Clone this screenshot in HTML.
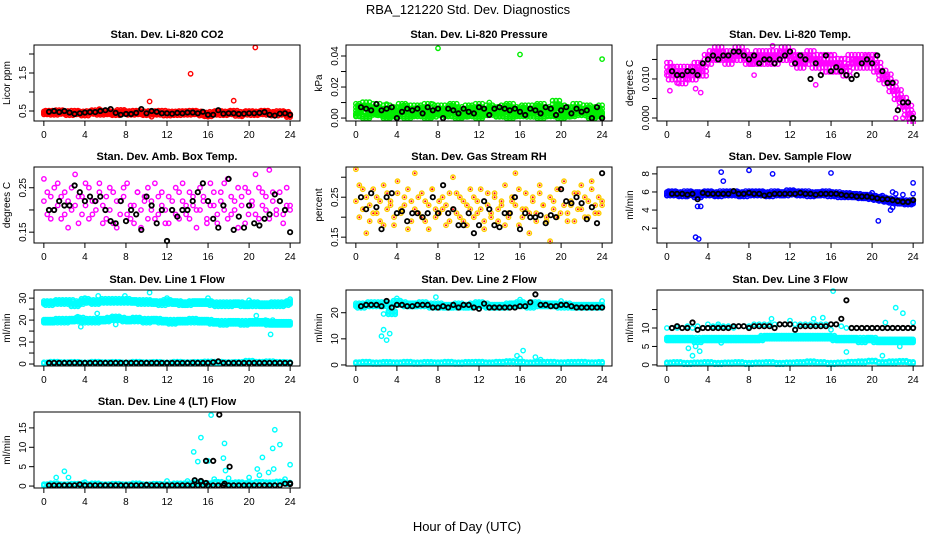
<!DOCTYPE html>
<html><head><meta charset="utf-8"><style>
body{margin:0;background:#fff}
svg{display:block;font-family:"Liberation Sans",sans-serif}
</style></head><body>
<svg id="chart" width="936" height="540" viewBox="0 0 936 540">
<text x="468" y="14" text-anchor="middle" font-size="13">RBA_121220  Std. Dev. Diagnostics</text>
<text x="467" y="531" text-anchor="middle" font-size="13">Hour of Day (UTC)</text>
</svg>
<script>
const xTicks=[0,4,8,12,16,20,24];
const co2Red=[0.45,0.47,0.44,0.48,0.46,0.43,0.47,0.45,0.42,0.46,0.48,0.44,0.47,0.45,0.43,0.49,0.46,0.44,0.47,0.45,0.43,0.46,0.44,0.47,0.42,0.45,0.43,0.46,0.44,0.47,0.45,0.42,0.40,0.44,0.46,0.43,0.45,0.47,0.41,0.44,0.46,0.43,0.45,0.47,0.44,0.42,0.46,0.44,0.38];
const co2RedOut=[[10.3,0.75],[14.3,1.48],[18.5,0.77],[20.6,2.17],[16,0.35],[19.3,0.36],[5.4,0.55],[10.5,0.35]];
const co2Black=[0.48,0.5,0.47,0.5,0.46,0.42,0.44,0.46,0.47,0.47,0.5,0.52,0.55,0.45,0.4,0.42,0.42,0.45,0.55,0.44,0.5,0.48,0.44,0.44,0.43,0.45,0.44,0.46,0.46,0.44,0.48,0.40,0.4,0.52,0.43,0.44,0.44,0.42,0.43,0.44,0.44,0.45,0.47,0.40,0.38,0.43,0.44,0.40];
const presGreen=[0.007,0.006,0.008,0.005,0.007,0.004,0.006,0.003,0.005,0.007,0.006,0.004,0.006,0.005,0.007,0.003,0.006,0.004,0.006,0.007,0.005,0.003,0.006,0.005,0.007,0.004,0.006,0.005,0.003,0.006,0.007,0.004,0.005,0.006,0.003,0.006,0.007,0.005,0.004,0.009,0.006,0.003,0.005,0.007,0.004,0.006,0.005,0.003,0.006];
const presGreen2=[0.002,0.001,0.003,0.001,0.002,0.001,0.002,0.001,0.003,0.002,0.001,0.002,0.001,0.003,0.002,0.001,0.002,0.003,0.001,0.002,0.001,0.002,0.003,0.001,0.002];
const presGreenOut=[[8,0.045],[16,0.041],[24,0.038],[3,0.009],[13,0.01],[7.5,0.009],[19.8,0.009]];
const presBlack=[0.007,0.006,0.005,0.009,0.005,0.006,0.007,0.0,0.004,0.006,0.005,0.006,0.003,0.007,0.005,0.006,0.0,0.006,0.005,0.003,0.006,0.004,0.003,0.007,0.006,0.002,0.006,0.007,0.006,0.005,0.006,0.004,0.002,0.006,0.005,0.003,0.007,0.006,0.002,0.005,0.007,0.003,0.006,0.004,0.005,0.0,0.007,0.0];
const tempMag=[0.013,0.011,0.012,0.010,0.012,0.011,0.013,0.012,0.015,0.016,0.017,0.016,0.015,0.016,0.017,0.016,0.015,0.015,0.016,0.015,0.016,0.015,0.016,0.017,0.016,0.015,0.014,0.015,0.016,0.014,0.015,0.013,0.015,0.013,0.014,0.012,0.015,0.014,0.015,0.014,0.015,0.013,0.011,0.010,0.008,0.006,0.004,0.002,0.000];
const tempMag2=[0.011,0.013,0.009,0.012,0.010,0.013,0.011,0.014,0.016,0.017,0.015,0.017,0.016,0.015,0.016,0.017,0.014,0.016,0.015,0.016,0.014,0.016,0.015,0.016,0.017,0.016,0.016,0.014,0.016,0.015,0.016,0.014,0.016,0.012,0.015,0.013,0.014,0.015,0.014,0.016,0.014,0.012,0.010,0.009,0.007,0.005,0.003,0.001,0.000];
const tempMagOut=[[0.3,0.007],[3.3,0.0065],[10.3,0.0185],[8.5,0.011],[22.3,0.0],[23,0.0],[23.5,0.0],[2.8,0.0075],[14.5,0.0085]];
const tempBlack=[0.012,0.011,0.011,0.012,0.012,0.011,0.014,0.015,0.016,0.015,0.016,0.016,0.017,0.017,0.016,0.015,0.016,0.014,0.015,0.015,0.014,0.015,0.016,0.017,0.014,0.016,0.015,0.010,0.014,0.011,0.016,0.012,0.013,0.012,0.011,0.010,0.011,0.014,0.015,0.014,0.016,0.012,0.009,0.009,0.002,0.004,0.004,0.0];
const ambMag=[0.27,0.19,0.23,0.25,0.21,0.18,0.24,0.22,0.20,0.28,0.17,0.23,0.21,0.25,0.19,0.22,0.26,0.17,0.23,0.20,0.24,0.16,0.22,0.25,0.19,0.21,0.17,0.24,0.20,0.23,0.18,0.22,0.26,0.19,0.21,0.17,0.23,0.20,0.25,0.18,0.22,0.19,0.24,0.21,0.16,0.20,0.23,0.18,0.26,0.21,0.17,0.24,0.20,0.27,0.19,0.22,0.16,0.23,0.25,0.19,0.21,0.28,0.18,0.24,0.20,0.29,0.22,0.19,0.24,0.17,0.21,0.20];
const ambMag2=[0.22,0.24,0.18,0.20,0.26,0.23,0.19,0.16,0.25,0.21,0.23,0.19,0.26,0.18,0.22,0.20,0.24,0.21,0.18,0.25,0.17,0.22,0.19,0.23,0.26,0.18,0.21,0.24,0.16,0.22,0.25,0.20,0.18,0.23,0.24,0.20,0.17,0.22,0.19,0.24,0.26,0.21,0.18,0.23,0.20,0.25,0.22,0.17,0.21,0.24,0.19,0.22,0.26,0.18,0.23,0.20,0.25,0.21,0.17,0.24,0.22,0.19,0.25,0.21,0.23,0.18,0.24,0.20,0.22,0.19,0.25,0.21];
const ambBlack=[0.2,0.2,0.22,0.21,0.21,0.255,0.24,0.22,0.23,0.22,0.23,0.2,0.175,0.17,0.22,0.175,0.2,0.19,0.155,0.23,0.21,0.17,0.2,0.13,0.2,0.185,0.2,0.2,0.22,0.24,0.26,0.22,0.18,0.16,0.21,0.27,0.155,0.185,0.16,0.21,0.17,0.165,0.18,0.19,0.235,0.22,0.2,0.15];
const rhOrange=[0.32,0.28,0.22,0.25,0.19,0.27,0.21,0.24,0.18,0.26,0.23,0.20,0.29,0.22,0.25,0.17,0.24,0.31,0.21,0.26,0.19,0.23,0.27,0.20,0.24,0.22,0.18,0.26,0.30,0.21,0.25,0.19,0.23,0.27,0.20,0.24,0.22,0.17,0.26,0.21,0.25,0.19,0.23,0.28,0.20,0.24,0.31,0.18,0.22,0.26,0.21,0.25,0.19,0.28,0.23,0.20,0.14,0.24,0.27,0.21,0.29,0.19,0.23,0.26,0.22,0.28,0.20,0.24,0.29,0.21,0.25,0.23];
const rhOrange2=[0.24,0.20,0.27,0.16,0.23,0.21,0.25,0.19,0.28,0.22,0.24,0.18,0.26,0.21,0.23,0.27,0.19,0.22,0.25,0.20,0.24,0.17,0.27,0.22,0.21,0.25,0.23,0.19,0.22,0.26,0.20,0.24,0.18,0.22,0.25,0.21,0.27,0.19,0.23,0.20,0.26,0.22,0.24,0.18,0.21,0.25,0.23,0.27,0.20,0.22,0.16,0.24,0.21,0.26,0.23,0.19,0.25,0.22,0.20,0.27,0.23,0.21,0.24,0.19,0.26,0.22,0.25,0.20,0.27,0.23,0.21,0.24];
const rhBlack=[0.25,0.22,0.26,0.225,0.17,0.25,0.26,0.21,0.215,0.19,0.21,0.21,0.2,0.21,0.25,0.21,0.28,0.21,0.22,0.18,0.18,0.21,0.16,0.18,0.24,0.22,0.18,0.175,0.21,0.21,0.25,0.17,0.21,0.2,0.2,0.205,0.185,0.205,0.2,0.27,0.24,0.235,0.25,0.235,0.195,0.225,0.185,0.31];
const flowBlue=[5.8,5.9,5.8,5.7,5.9,5.8,5.6,5.8,5.9,5.8,5.7,5.9,5.8,5.9,5.8,5.7,5.9,5.8,5.9,5.8,5.7,5.9,5.8,5.8,6.0,5.9,5.8,5.9,5.7,5.8,5.8,5.9,5.7,5.8,5.6,5.7,5.6,5.6,5.5,5.5,5.4,5.3,5.2,5.1,5.0,4.9,4.9,4.8,4.9];
const flowBlue2=[5.6,6.0,5.5,6.0,5.7,5.6,6.0,5.5,5.7,6.0,5.6,5.8,6.0,5.6,5.9,5.8,6.0,5.6,5.8,5.6,5.9,5.6,6.0,5.7,5.8];
const flowBlueOut=[[2.8,1.0],[3.1,0.8],[3.0,4.4],[3.3,4.4],[5.3,8.2],[5.5,7.2],[8,8.4],[10.3,8.0],[16,8.1],[20.6,2.8],[21.8,4.0],[22,4.3],[24,7.0],[20,5.9],[22.3,5.8]];
const flowBlack=[5.8,5.8,5.8,5.7,5.8,5.2,5.9,5.8,5.8,5.8,5.8,5.8,6.1,5.8,5.8,5.9,5.8,5.8,5.6,5.7,5.8,5.8,5.8,5.8,5.8,5.9,5.8,5.8,5.7,5.8,5.8,5.8,5.8,5.7,5.6,5.6,5.5,5.5,5.5,5.4,5.3,5.2,5.2,5.1,5.0,4.9,4.9,5.1];
const l1Upper=[28,27.5,28,28.5,28,28.5,27,28,29,28.5,28,28.5,29,28.5,29,28.5,29,28.5,28.5,28,28.5,28,28,27.5,28.5,28,28,27.5,27.5,28,28,28,28,27.5,27,27.5,27,27.5,27.5,27,27,27.5,27,27,27,27.5,27,27.5,28];
const l1Mid=[19.5,19.5,19.5,20,19.5,20,20,20.5,19.5,20,19.5,20,20,20.5,21,20.5,20,20,20.5,20,19.5,20,20,19.5,19.5,19,19.5,19.5,19.5,20,19.5,19.5,19.5,19,19,18.5,19,19,19,18.5,19,19,19,19,18.5,18.5,18.5,18.5,18.5];
const l1Low=[0.5,0.8,0.6,0.7,0.5,0.8,0.6,0.7,0.5,0.8,0.6,0.7,0.5,0.8,0.6,0.7,0.9,0.8,0.6,0.7,1.2,0.8,1.0,0.7,0.6];
const l1Out=[[3.5,27],[4,30],[5.3,31],[7.9,31],[10.3,32.5],[12,30],[16,30],[20,29],[24,29.5],[3.3,21.5],[3.6,17],[5.2,23],[7,18],[20.7,22],[22.1,13.5],[21.6,20],[22.3,20]];
const l1Black=[0.5,0.5,0.5,0.5,0.5,0.5,0.5,0.5,0.5,0.5,0.5,0.5,0.5,0.5,0.5,0.6,0.5,0.5,0.5,0.5,0.5,0.5,0.5,0.5,0.5,0.5,0.5,0.5,0.6,0.5,0.5,0.5,0.8,1.2,0.5,0.5,0.5,0.5,0.5,0.5,0.5,0.5,0.5,0.5,0.5,0.5,0.5,0.5];
const l2Upper=[23,22.5,23,23.5,23,23.5,23,20,24,23.5,23,23,23,23.5,23,22.5,23,22.5,22.5,22.5,23,22.5,22.5,23,23.5,23,22.5,22.5,22.5,22.5,23,23,23.5,23,22.5,23.5,23,23,23,23,22.5,23,22.5,22.5,22.5,22.5,22.5,22.5,22.5];
const l2Low=[0.8,1.0,0.7,0.9,0.8,1.0,0.7,0.9,0.8,1.0,0.7,0.9,1.0,0.8,1.0,1.2,1.0,0.8,0.9,1.0,0.8,0.9,1.0,0.8,0.9];
const l2Out=[[2.7,19.5],[2.5,11],[2.7,13.5],[3.0,9.5],[3.3,12],[4.0,25.5],[7.8,26],[12,24],[15.7,3.5],[16,2.5],[16.3,5.5],[17.5,3],[18,2],[20,24.5],[24,24.5],[16,25]];
const l2Black=[22.5,23,23,23,22.5,24.5,22,23,23,22.5,22.5,23,23,23,22,22,22.5,22,23,22,23,23,22,21.5,23.5,22,22,22,22,22,22,22.5,22.5,24,27,23,23,22.5,22.5,23,23,22.5,22,22,22,22,22,22];
const l3Upper=[10,10,10,10,10.5,10,10.5,10,10,10.5,10.5,10.5,10.5,10,10.5,10.5,10.5,11,11,11,11,11,11,11,11,11,11,11,11,11,11,11,11,11,10.5,10,10,10,10,10,10,10,10,10,10,10,10,10,10];
const l3Mid=[7,7,7,7,7,7,6.5,7,7,7,7,7,7,7,7,7,7,7,7,7.5,7.5,7.5,7.5,7.5,7.5,7.5,7.5,7.5,7.5,7.5,7.5,7.5,7.5,7,7,7,7,7,6.5,7,7,6.5,6.5,6.5,6.5,6.5,6.5,6.5,6.5];
const l3Low=[0.5,0.6,0.4,0.5,0.6,0.4,0.5,0.6,0.4,0.5,0.6,0.4,0.5,0.6,0.8,0.6,0.4,0.5,0.7,0.8,1.0,0.6,0.8,0.9,0.6];
const l3Out=[[2.1,4.5],[2.5,2.5],[2.8,5],[3.2,3.7],[4,11],[5,11],[5.3,6],[10.2,12.5],[12,12],[14.3,12.5],[15.2,12.8],[16.2,20],[16,9.5],[17.5,3.5],[21,2.5],[22.3,15.5],[22.7,5],[23,14],[24,11.5],[21.3,11.5]];
const l3Black=[10,10.5,10,10,11.5,9.5,10,10,10,10,10,10,10.5,10.5,10.5,10,10.5,10.5,10.5,10.5,10,11,11,11,9.5,10.5,10.5,10.5,10.5,10.5,10.5,11,11,12.5,17.5,10,10,10,10,10,10,10,10,10,10,10,10,10];
const l4Low=[0.3,0.5,0.3,0.4,0.3,0.5,0.3,0.4,0.3,0.5,0.3,0.4,0.3,0.5,0.5,0.8,0.6,0.9,0.7,0.8,0.6,0.9,0.8,1.0,0.7];
const l4Out=[[1.2,2.2],[2,3.8],[2.4,2.2],[3.8,0.8],[4,1],[12,1.3],[14,1.3],[14.6,8.8],[15,6.3],[15.3,12.5],[16,6.5],[16.3,18.3],[16.6,1.8],[17.6,11],[17.5,7.2],[17.7,4],[18,2],[20,2.2],[20.8,4.4],[21,2.8],[21.3,7.4],[21.9,3.5],[22.3,9.7],[22.5,14.5],[22.4,4.4],[23,10.7],[23.5,1.8],[24,5.5],[20,1.2],[19,1]];
const l4BlackOut=[[14.7,1.5],[15.3,1.3],[15.8,6.5],[16.5,6.5],[17.1,18.4],[18.1,5],[15.8,0.8],[17.6,0.6],[24,0.7]];
const l4Black=[0.2,0.2,0.2,0.2,0.2,0.2,0.4,0.2,0.2,0.2,0.2,0.2,0.2,0.2,0.2,0.2,0.2,0.2,0.2,0.3,0.2,0.2,0.2,0.2,0.2,0.2,0.2,0.2,0.2,0.2,0.2,0.2,0.2,0.2,0.2,0.2,0.2,0.2,0.2,0.2,0.2,0.2,0.2,0.2,0.2,0.2,0.6,0.5];

const NS='http://www.w3.org/2000/svg';
const svg=document.getElementById('chart');
function mk(tag,attrs,parent){const e=document.createElementNS(NS,tag);for(const k in attrs)e.setAttribute(k,attrs[k]);(parent||svg).appendChild(e);return e;}
const colL=[34,346,657],rowT=[45,167,290,412],W=266,H=76;
function panel(o){
  const g=mk('g',{});
  
  
  const L=colL[o.c],T=rowT[o.r];
  const xs=h=>L+(h+0.96)/25.92*W;
  const ys=v=>T+H-(v-o.y0)/(o.y1-o.y0)*H;
  const t=mk('text',{x:L+W/2,y:T-7,'text-anchor':'middle','font-size':11,'font-weight':'bold'},g);t.textContent=o.title;
  
  
  const yl=mk('text',{x:0,y:0,transform:`translate(${L-24},${T+H/2}) rotate(-90)`,'text-anchor':'middle','font-size':10},g);yl.textContent=o.ylab;
  
  
  const clipId='c'+o.name;
  const cp=mk('clipPath',{id:clipId},g);mk('rect',{x:L,y:T-3,width:W,height:H+6},cp);
  const pts=mk('g',{'clip-path':`url(#${clipId})`},g);
  function dot(h,v,col,inner,sw){
    const c=mk('circle',{cx:xs(h).toFixed(1),cy:ys(v).toFixed(1),r:2.2,fill:'none',stroke:col,'stroke-width':sw||1.4},pts);
    
    
    if(inner){mk('circle',{cx:xs(h).toFixed(1),cy:ys(v).toFixed(1),r:1,fill:inner},pts);}
  }
  (o.dense||[]).forEach(s=>{const n=s.v.length;const st=24/(n-1);s.v.forEach((v,i)=>{const h=i*st;
    if(s.thick){[-0.33,0,0.33].forEach(dx=>[-s.thick,0,s.thick].forEach(dy=>{if(h+dx>=-0.2&&h+dx<=24.1)dot(h+dx,v+dy,s.col,s.inner);}));}
    else dot(h,v,s.col,s.inner);});});
  (o.out||[]).forEach(s=>s.p.forEach(p=>dot(p[0],p[1],s.col,s.inner)));
  (o.black||[]).forEach(arr=>arr.forEach((v,i)=>dot(0.5+i*0.5,v,'#000',null,1.8)));
  (o.bout||[]).forEach(p=>dot(p[0],p[1],'#000',null,1.8));
  const box=mk('rect',{x:L,y:T,width:W,height:H,fill:'none',stroke:'#000','stroke-width':1},g);
  
  
  const xa=mk('g',{},g);
  
  
  mk('line',{x1:xs(0),x2:xs(24),y1:T+H,y2:T+H,stroke:'#000'},xa);
  xTicks.forEach(h=>{mk('line',{x1:xs(h),x2:xs(h),y1:T+H,y2:T+H+5,stroke:'#000'},xa);const tx=mk('text',{x:xs(h),y:T+H+17,'text-anchor':'middle','font-size':10},xa);tx.textContent=h;});
  const ya=mk('g',{},g);
  
  
  mk('line',{x1:L,x2:L,y1:ys(o.ticks[0]),y2:ys(o.ticks[o.ticks.length-1]),stroke:'#000'},ya);
  o.ticks.forEach(v=>mk('line',{x1:L-5,x2:L,y1:ys(v),y2:ys(v),stroke:'#000'},ya));
  o.labels.forEach(lb=>{const tx=mk('text',{x:0,y:0,transform:`translate(${L-8},${ys(+lb)}) rotate(-90)`,'text-anchor':'middle','font-size':10},ya);tx.textContent=lb;});
}
panel({name:'co2',c:0,r:0,title:'Stan. Dev. Li-820 CO2',ylab:'Licor ppm',y0:0.237,y1:2.237,ticks:[0.5,1,1.5,2],labels:['0.5','1.5'],
 dense:[{v:co2Red,col:'#ff0000',thick:0.04}],out:[{p:co2RedOut,col:'#ff0000'}],black:[co2Black]});
panel({name:'pressure',c:1,r:0,title:'Stan. Dev. Li-820 Pressure',ylab:'kPa',y0:-0.0019,y1:0.0471,ticks:[0,0.01,0.02,0.03,0.04],labels:['0.00','0.02','0.04'],
 dense:[{v:presGreen,col:'#00ee00',thick:0.0022},{v:presGreen2,col:'#00ee00',thick:0.001}],out:[{p:presGreenOut,col:'#00ee00'}],black:[presBlack]});
panel({name:'temp',c:2,r:0,title:'Stan. Dev. Li-820 Temp.',ylab:'degrees C',y0:-0.00077,y1:0.0187,ticks:[0,0.005,0.01,0.015],labels:['0.000','0.010'],
 dense:[{v:tempMag,col:'#ff00ff',thick:0.0012},{v:tempMag2,col:'#ff00ff'}],out:[{p:tempMagOut,col:'#ff00ff'}],black:[tempBlack]});
panel({name:'amb-temp',c:0,r:1,title:'Stan. Dev. Amb. Box Temp.',ylab:'degrees C',y0:0.1256,y1:0.2967,ticks:[0.15,0.2,0.25],labels:['0.15','0.25'],
 dense:[{v:ambMag,col:'#ff00ff'},{v:ambMag2,col:'#ff00ff'}],black:[ambBlack]});
panel({name:'rh',c:1,r:1,title:'Stan. Dev. Gas Stream RH',ylab:'percent',y0:0.1354,y1:0.3256,ticks:[0.15,0.2,0.25,0.3],labels:['0.15','0.25'],
 dense:[{v:rhOrange,col:'#ffcc00',inner:'#ff0000'},{v:rhOrange2,col:'#ffcc00',inner:'#ff0000'}],black:[rhBlack]});
panel({name:'sample-flow',c:2,r:1,title:'Stan. Dev. Sample Flow',ylab:'ml/min',y0:0.36,y1:8.76,ticks:[2,4,6,8],labels:['2','4','6','8'],
 dense:[{v:flowBlue,col:'#0000ff',thick:0.2},{v:flowBlue2,col:'#0000ff'}],out:[{p:flowBlueOut,col:'#0000ff'}],black:[flowBlack]});
panel({name:'line1',c:0,r:2,title:'Stan. Dev. Line 1 Flow',ylab:'ml/min',y0:-0.9,y1:33.7,ticks:[0,5,10,15,20,25,30],labels:['0','10','20','30'],
 dense:[{v:l1Upper,col:'#00ffff',thick:0.7},{v:l1Mid,col:'#00ffff',thick:0.7},{v:l1Low,col:'#00ffff',thick:0.3}],out:[{p:l1Out,col:'#00ffff'}],black:[l1Black]});
panel({name:'line2',c:1,r:2,title:'Stan. Dev. Line 2 Flow',ylab:'ml/min',y0:-0.4,y1:28.7,ticks:[0,10,20],labels:['0','10','20'],
 dense:[{v:l2Upper,col:'#00ffff',thick:0.6},{v:l2Low,col:'#00ffff',thick:0.3}],out:[{p:l2Out,col:'#00ffff'}],black:[l2Black]});
panel({name:'line3',c:2,r:2,title:'Stan. Dev. Line 3 Flow',ylab:'ml/min',y0:-0.3,y1:20.3,ticks:[0,5,10,15],labels:['0','5','10'],
 dense:[{v:l3Upper,col:'#00ffff'},{v:l3Mid,col:'#00ffff',thick:0.4},{v:l3Low,col:'#00ffff',thick:0.2}],out:[{p:l3Out,col:'#00ffff'}],black:[l3Black]});
panel({name:'line4',c:0,r:3,title:'Stan. Dev. Line 4 (LT) Flow',ylab:'ml/min',y0:-0.5,y1:19.1,ticks:[0,5,10,15],labels:['0','5','10','15'],
 dense:[{v:l4Low,col:'#00ffff',thick:0.2}],out:[{p:l4Out,col:'#00ffff'}],black:[l4Black],bout:l4BlackOut});
</script>
</body></html>
